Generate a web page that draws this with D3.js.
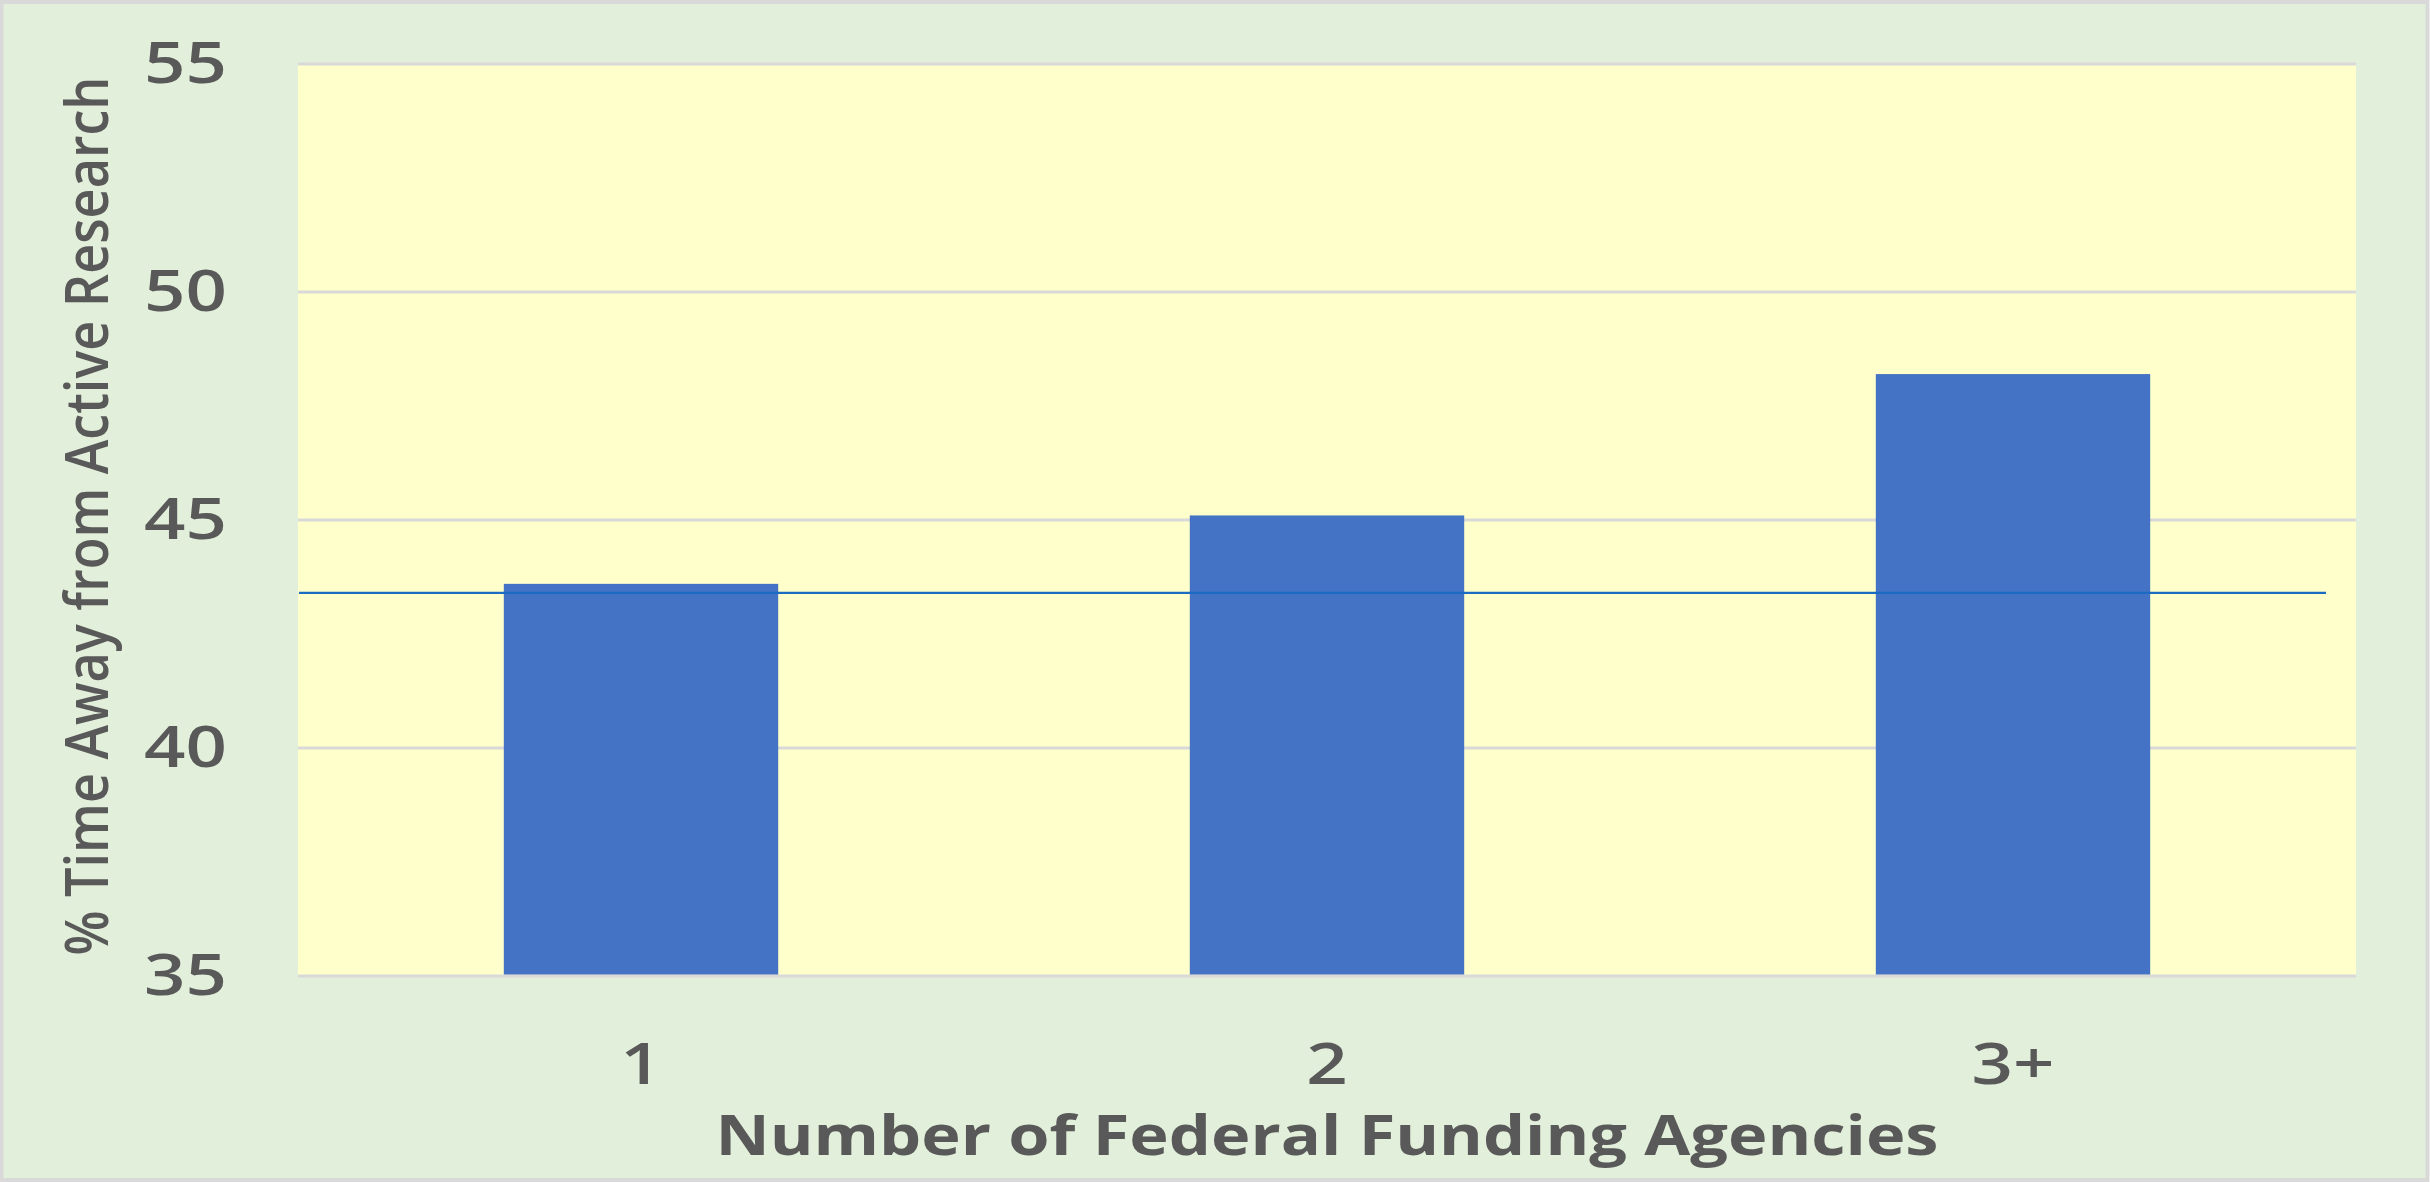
<!DOCTYPE html>
<html>
<head>
<meta charset="utf-8">
<script src="https://cdn.jsdelivr.net/npm/d3@7"></script>
<style>
  html, body { margin: 0; padding: 0; background: #ffffff; }
  svg text { fill: #595959; font-family: "Open Sans", "DejaVu Sans", sans-serif; }
</style>
</head>
<body>
<script>
// data
var categories = ["1", "2", "3+"];
var values = [43.6, 45.1, 48.2];
var meanLine = [43.4];
var yTicks = [35, 40, 45, 50, 55];
var xTitle = "Number of Federal Funding Agencies";
var yTitle = "% Time Away from Active Research";

var width = 2430, height = 1182;
var plotLeft = 298, plotRight = 2356, plotTop = 64, plotBottom = 976;

var svg = d3.select("body").append("svg")
    .attr("width", width).attr("height", height);

// outer chart area with grey border
svg.append("rect")
    .attr("x", 1.5).attr("y", 2).attr("width", width - 4).attr("height", height - 4)
    .attr("fill", "#e2efda").attr("stroke", "#d9d9d9").attr("stroke-width", 4);

var x = d3.scaleBand().domain(categories).range([plotLeft, plotRight]).padding(0);
var y = d3.scaleLinear().domain([35, 55]).range([plotBottom, plotTop]);

// plot area
svg.append("rect")
    .attr("x", plotLeft).attr("y", y(55))
    .attr("width", plotRight - plotLeft).attr("height", y(35) - y(55))
    .attr("fill", "#ffffcc");

// gridlines
svg.append("g").selectAll("line").data(yTicks).enter().append("line")
    .attr("x1", plotLeft).attr("x2", plotRight)
    .attr("y1", function(d){ return y(d); })
    .attr("y2", function(d){ return y(d); })
    .attr("stroke", "#d9d9d9").attr("stroke-width", 3);

// bars
var barW = x.bandwidth() * 0.4;
svg.append("g").selectAll("rect").data(values).enter().append("rect")
    .attr("x", function(d, i){ return x(categories[i]) + (x.bandwidth() - barW) / 2; })
    .attr("y", function(d){ return y(d); })
    .attr("width", barW)
    .attr("height", function(d){ return y(35) - y(d) - 1.5; })
    .attr("fill", "#4472c4");

// mean reference line
svg.append("g").selectAll("line").data(meanLine).enter().append("line")
    .attr("x1", x.range()[0] + 1).attr("x2", x.range()[1] - 30)
    .attr("y1", function(d){ return y(d); })
    .attr("y2", function(d){ return y(d); })
    .attr("stroke", "#1c6bc2").attr("stroke-width", 2.2);

// stretch text horizontally like the original
function stretch(sel, k) {
    sel.each(function(){
        var w = this.getComputedTextLength();
        d3.select(this).attr("textLength", w * k).attr("lengthAdjust", "spacingAndGlyphs");
    });
}

// y axis
var yAxis = svg.append("g")
    .attr("transform", "translate(" + plotLeft + ",0)")
    .call(d3.axisLeft(y).tickValues(yTicks).tickSize(0).tickPadding(71));
yAxis.select(".domain").remove();
yAxis.selectAll("text")
    .style("font-size", "58px").style("font-weight", 600)
    .style("font-family", null).attr("fill", null);
stretch(yAxis.selectAll("text"), 1.25);

// x axis
var xAxis = svg.append("g")
    .attr("transform", "translate(0," + plotBottom + ")")
    .call(d3.axisBottom(x).tickSize(0).tickPadding(67));
xAxis.select(".domain").remove();
xAxis.selectAll("text")
    .style("font-size", "58px").style("font-weight", 600)
    .style("font-family", null).attr("fill", null);
stretch(xAxis.selectAll("text"), 1.25);

// axis titles
svg.append("text")
    .attr("x", (plotLeft + plotRight) / 2).attr("y", 1155)
    .attr("text-anchor", "middle")
    .style("font-size", "56px").style("font-weight", 700)
    .attr("textLength", 1223).attr("lengthAdjust", "spacingAndGlyphs")
    .text(xTitle);

svg.append("text")
    .attr("transform", "translate(108," + ((plotTop + plotBottom) / 2 - 4) + ") rotate(-90)")
    .attr("text-anchor", "middle")
    .style("font-size", "60px").style("font-weight", 600)
    .attr("textLength", 879).attr("lengthAdjust", "spacingAndGlyphs")
    .text(yTitle);
</script>
</body>
</html>
